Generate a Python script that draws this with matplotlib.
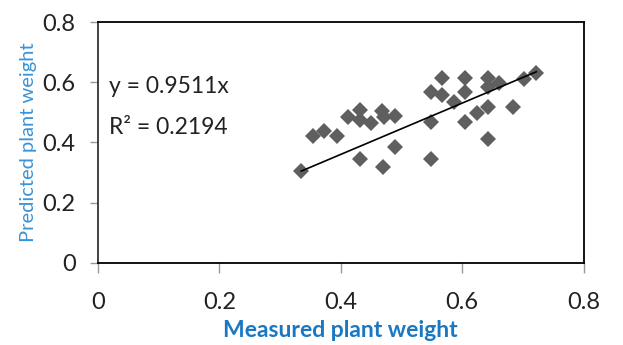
import matplotlib
matplotlib.use('Agg')
import matplotlib.pyplot as plt

# values
measured = [0.335, 0.355, 0.373, 0.393, 0.412, 0.431, 0.431, 0.431, 0.450,
            0.468, 0.471, 0.470, 0.490, 0.490, 0.548, 0.548, 0.548, 0.566,
            0.566, 0.586, 0.604, 0.604, 0.604, 0.625, 0.643, 0.643, 0.643,
            0.643, 0.661, 0.683, 0.701, 0.722]
predicted = [0.305, 0.422, 0.438, 0.422, 0.485, 0.508, 0.475, 0.345, 0.465,
             0.503, 0.485, 0.319, 0.488, 0.385, 0.568, 0.468, 0.345, 0.614,
             0.558, 0.534, 0.614, 0.568, 0.468, 0.498, 0.614, 0.584, 0.518,
             0.412, 0.598, 0.518, 0.611, 0.631]
trend_x = [0.335, 0.722]
trend_y = [0.305, 0.635]
ticks = [0, 0.2, 0.4, 0.6, 0.8]
tick_labels = ['0', '0.2', '0.4', '0.6', '0.8']

plt.rcParams['font.family'] = ['Lato', 'DejaVu Sans']

fig = plt.figure(figsize=(6.23, 3.45), dpi=100)
ax = fig.add_axes([0.157, 0.238, 0.78, 0.698])

ax.plot(measured, predicted, 'D', color='#5f5f5f', markersize=8.3,
        markeredgewidth=0, zorder=3)
ax.plot(trend_x, trend_y, color='black', linewidth=1.2, zorder=4)

ax.set_xlim(0, 0.8)
ax.set_ylim(0, 0.8)
ax.set_xticks(ticks)
ax.set_xticklabels(tick_labels)
ax.set_yticks(ticks)
ax.set_yticklabels(tick_labels)
ax.tick_params(axis='x', direction='out', length=7, width=1, color='#999999',
               pad=14, labelsize=17, labelcolor='#222222')
ax.tick_params(axis='y', direction='out', length=6, width=1, color='#999999',
               pad=10, labelsize=17, labelcolor='#222222')
for s in ax.spines.values():
    s.set_color('black')
    s.set_linewidth(1.3)
ax.spines['left'].set_color('#333333')

ax.set_xlabel('Measured plant weight', fontsize=16.5, fontweight='bold',
              color='#1a78c2', labelpad=5)
ax.set_ylabel('Predicted plant weight', fontsize=14.5, color='#3a93d8',
              labelpad=4)

ax.text(0.024, 0.705, 'y = 0.9511x', transform=ax.transAxes, fontsize=16.5,
        color='#222222', va='baseline')
ax.text(0.024, 0.537, 'R\u00b2 = 0.2194', transform=ax.transAxes, fontsize=16.5,
        color='#222222', va='baseline')

fig.savefig('out.png', dpi=100)
